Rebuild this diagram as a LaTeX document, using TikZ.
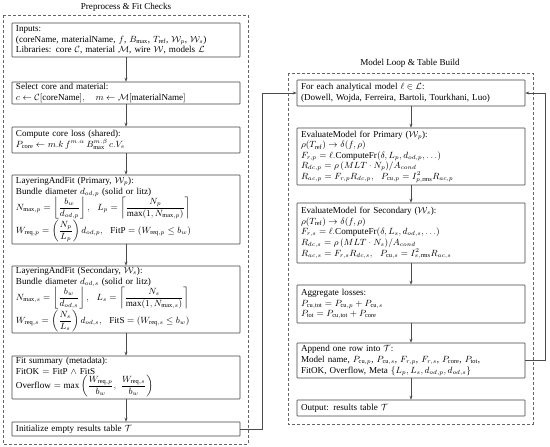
\documentclass[tikz,border=0pt]{standalone}
\usepackage{amsmath,amssymb}
\usepackage{fontspec}
\setmainfont{Liberation Serif}
\usetikzlibrary{arrows.meta}
\begin{document}
\begin{tikzpicture}[x=1pt,y=-1pt, font=\fontsize{9.1}{10.6}\selectfont,
 box/.style={draw=black!75, line width=0.6pt, rounded corners=0.5pt, align=left, text width=220pt, inner xsep=4pt, inner ysep=1pt},
 cont/.style={draw=black!60, line width=0.6pt, dash pattern=on 3pt off 2pt},
 arr/.style={draw=black!70, line width=0.6pt, -{Stealth[length=4pt,width=3pt]}}]
\useasboundingbox (0,0) rectangle (550,447);
% containers
\draw[cont] (3,15) rectangle (248,444);
\draw[cont] (288,73) rectangle (533,424);
\node (t1) at (126,7) {Preprocess \& Fit Checks};
\node (t2) at (410,63) {Model Loop \& Table Build};
% left column
\node[box, minimum height=34pt] (inp) at (126,40) {Inputs:\\
(coreName, materialName, $f$, $B_{\max}$, $T_{\mathrm{ref}}$, $\mathcal{W}_p$, $\mathcal{W}_s$)\\
Libraries: core $\mathcal{C}$, material $\mathcal{M}$, wire $\mathcal{W}$, models $\mathcal{L}$};
\node[box, minimum height=22pt] (sel) at (126,93) {Select core and material:\\
$c \leftarrow \mathcal{C}[\text{coreName}],\quad m \leftarrow \mathcal{M}[\text{materialName}]$};
\node[box, minimum height=26pt] (core) at (126,140) {Compute core loss (shared):\\
$P_{\mathrm{core}} \leftarrow m.k\, f^{m.\alpha}\, B_{\max}^{m.\beta}\, c.V_e$};
\node[box, minimum height=69pt] (lp) at (126,209.5) {LayeringAndFit (Primary, $\mathcal{W}_p$):\\
Bundle diameter $d_{od,p}$ (solid or litz)\\
$N_{\max,p} = \left\lfloor \dfrac{b_w}{d_{od,p}} \right\rfloor,\ \ L_p = \left\lceil \dfrac{N_p}{\max(1, N_{\max,p})} \right\rceil$\\
$W_{\mathrm{req},p} = \left(\dfrac{N_p}{L_p}\right) d_{od,p},\ \ \text{FitP} = (W_{\mathrm{req},p} \le b_w)$};
\node[box, minimum height=67pt] (ls) at (126,299.5) {LayeringAndFit (Secondary, $\mathcal{W}_s$):\\
Bundle diameter $d_{od,s}$ (solid or litz)\\
$N_{\max,s} = \left\lfloor \dfrac{b_w}{d_{od,s}} \right\rfloor,\ \ L_s = \left\lceil \dfrac{N_s}{\max(1, N_{\max,s})} \right\rceil$\\
$W_{\mathrm{req},s} = \left(\dfrac{N_s}{L_s}\right) d_{od,s},\ \ \text{FitS} = (W_{\mathrm{req},s} \le b_w)$};
\node[box, minimum height=43pt] (fit) at (126,377.5) {Fit summary (metadata):\\
FitOK $=$ FitP $\wedge$ FitS\\
Overflow $= \max\left(\dfrac{W_{\mathrm{req},p}}{b_w},\ \dfrac{W_{\mathrm{req},s}}{b_w}\right)$};
\node[box, minimum height=14pt] (init) at (126,429) {Initialize empty results table $\mathcal{T}$};
% right column
\node[box, minimum height=26pt] (for) at (411,93) {For each analytical model $\ell \in \mathcal{L}$:\\
(Dowell, Wojda, Ferreira, Bartoli, Tourkhani, Luo)};
\node[box, minimum height=57pt] (ep) at (411,156.5) {EvaluateModel for Primary ($\mathcal{W}_p$):\\
$\rho(T_{\mathrm{ref}}) \to \delta(f,\rho)$\\
$F_{r,p} = \ell.\mathrm{ComputeFr}(\delta, L_p, d_{od,p}, \ldots)$\\
$R_{dc,p} = \rho\,(MLT \cdot N_p)/A_{cond}$\\
$R_{ac,p} = F_{r,p} R_{dc,p},\ \ P_{\mathrm{cu},p} = I_{p,\mathrm{rms}}^2 R_{ac,p}$};
\node[box, minimum height=60pt] (es) at (411,233) {EvaluateModel for Secondary ($\mathcal{W}_s$):\\
$\rho(T_{\mathrm{ref}}) \to \delta(f,\rho)$\\
$F_{r,s} = \ell.\mathrm{ComputeFr}(\delta, L_s, d_{od,s}, \ldots)$\\
$R_{dc,s} = \rho\,(MLT \cdot N_s)/A_{cond}$\\
$R_{ac,s} = F_{r,s} R_{dc,s},\ \ P_{\mathrm{cu},s} = I_{s,\mathrm{rms}}^2 R_{ac,s}$};
\node[box, minimum height=38pt] (agg) at (411,304) {Aggregate losses:\\
$P_{\mathrm{cu,tot}} = P_{\mathrm{cu},p} + P_{\mathrm{cu},s}$\\
$P_{\mathrm{tot}} = P_{\mathrm{cu,tot}} + P_{\mathrm{core}}$};
\node[box, minimum height=35pt] (app) at (411,360.5) {Append one row into $\mathcal{T}$:\\
Model name, $P_{\mathrm{cu},p}$, $P_{\mathrm{cu},s}$, $F_{r,p}$, $F_{r,s}$, $P_{\mathrm{core}}$, $P_{\mathrm{tot}}$,\\
FitOK, Overflow, Meta $\{L_p, L_s, d_{od,p}, d_{od,s}\}$};
\node[box, minimum height=16pt] (out) at (411,408) {Output: results table $\mathcal{T}$};
% connectors
\draw[arr] (inp) -- (sel);
\draw[arr] (sel) -- (core);
\draw[arr] (core) -- (lp);
\draw[arr] (lp) -- (ls);
\draw[arr] (ls) -- (fit);
\draw[arr] (fit) -- (init);
\draw[arr] (for) -- (ep);
\draw[arr] (ep) -- (es);
\draw[arr] (es) -- (agg);
\draw[arr] (agg) -- (app);
\draw[arr] (app) -- (out);
\coordinate (l1) at (262,429);
\coordinate (l2) at (262,93);
\draw[arr] (init.east) -- (l1) -- (l2) -- (for.west);
\coordinate (r1) at (545,360.5);
\coordinate (r2) at (545,93);
\draw[arr] (app.east) -- (r1) -- (r2) -- (for.east);
\end{tikzpicture}
\end{document}
